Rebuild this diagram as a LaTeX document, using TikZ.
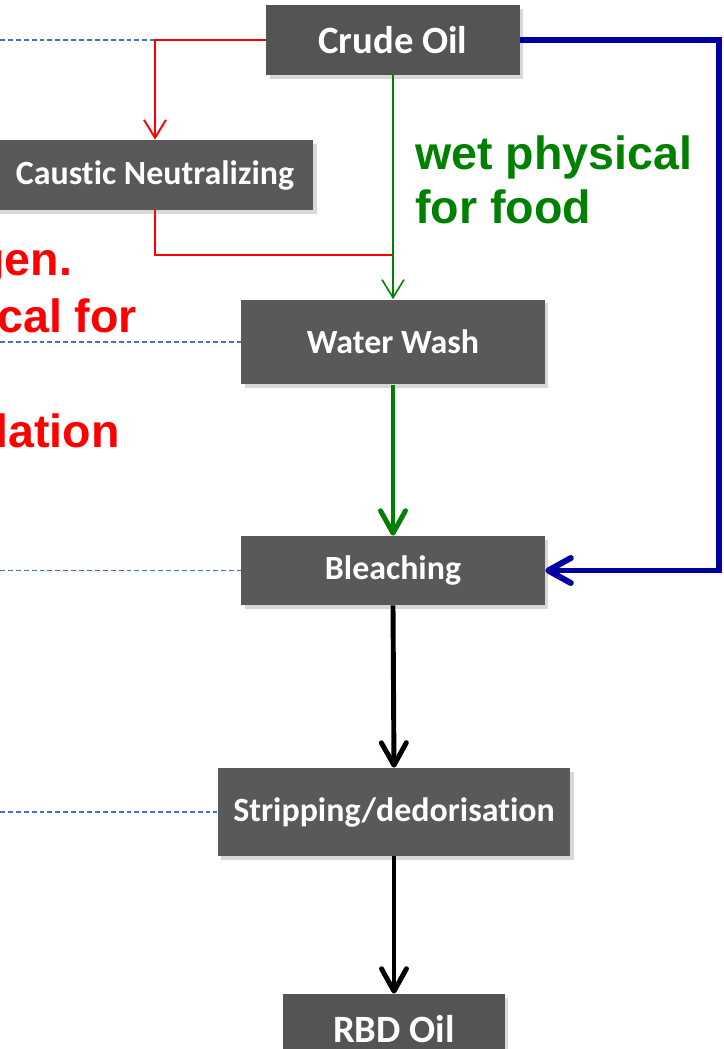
\documentclass[tikz,border=0pt]{standalone}
\usepackage{fontspec}
\usepackage{xcolor}
\usepackage{tikz}
\usetikzlibrary{arrows.meta,shadows}
\newfontfamily\boxfont{Carlito}[Ligatures=NoCommon]
\newfontfamily\notefont{Liberation Sans}
\definecolor{boxgray}{RGB}{89,89,89}
\definecolor{crudegray}{RGB}{84,84,84}
\definecolor{dashblue}{RGB}{68,114,196}
\definecolor{routeblue}{RGB}{0,0,160}
\definecolor{routegreen}{RGB}{0,128,0}
\definecolor{routered}{RGB}{255,0,0}
\tikzset{
  unit/.style={fill=boxgray, text=white, align=center, inner sep=2pt,
               font=\boxfont\bfseries\fontsize{19.3}{23}\selectfont,
               drop shadow={shadow xshift=2pt, shadow yshift=-2pt, opacity=0.3}},
  endunit/.style={unit, fill=crudegray,
                  font=\boxfont\bfseries\fontsize{22}{26}\selectfont},
  feed/.style={draw=dashblue, line width=0.6pt, dash pattern=on 2.8pt off 1.7pt},
  thinarrow/.style={line width=1.1pt, -{Straight Barb[length=3.6mm, width=4.4mm]}},
  bigarrow/.style={line width=2.8pt, -{Straight Barb[length=4.5mm, width=5mm, round]}},
  note/.style={font=\notefont\bfseries\fontsize{26.5}{31}\selectfont,
               inner sep=0pt, align=left}
}
\begin{document}
\begin{tikzpicture}[x=0.02cm, y=-0.02cm]
  \fill[white] (0,0) rectangle (724,1049);
  \useasboundingbox (0,0) rectangle (724,1049);
  \node[endunit, minimum width=5.08cm, minimum height=1.4cm] (crude) at (393,40) {Crude Oil};
  \node[unit, minimum width=6.34cm, minimum height=1.4cm] (caustic) at (155,175) {Caustic Neutralizing};
  \node[unit, minimum width=6.08cm, minimum height=1.7cm] (wash) at (393,342) {Water Wash};
  \node[unit, minimum width=6.08cm, minimum height=1.38cm] (bleach) at (393,570.5) {Bleaching};
  \node[unit, minimum width=7.06cm, minimum height=1.76cm] (strip) at (394,812) {Stripping/dedorisation};
  \node[endunit, minimum width=4.44cm, minimum height=1.4cm] (rbd) at (394,1029) {RBD Oil};
  \node[note, text=routered, anchor=base west] (chemA) at (-24,275) {gen.};
  \node[note, text=routered, anchor=base west] (chemB) at (-3,332) {cal for};
  \node[note, text=routered, anchor=base west] (chemC) at (-5,447) {lation};
  \node[note, text=routegreen, anchor=north west] (food) at (415,135) {wet physical\\for food};
  \coordinate (feedA) at (0,40);
  \coordinate (feedB) at (0,342);
  \coordinate (feedC) at (0,570.5);
  \coordinate (feedD) at (0,812);
  \coordinate (merge) at (393,255);
  \coordinate (bypass) at (719,40);
  \draw[feed] (feedA) -- (crude.west);
  \draw[feed] (feedB) -- (wash.west);
  \draw[feed] (feedC) -- (bleach.west);
  \draw[feed] (feedD) -- (strip.west);
  \draw[routered, thinarrow] (crude.west) -| (caustic.north);
  \draw[routered, line width=1.1pt] (caustic.south) |- (merge);
  \draw[routegreen, thinarrow, line width=0.9pt] (crude.south) -- (wash.north);
  \draw[routegreen, bigarrow] (wash.south) -- (bleach.north);
  \draw[routeblue, bigarrow, line width=3.4pt] (crude.east) -- (bypass) |- (bleach.east);
  \draw[bigarrow] (bleach.south) -- (strip.north);
  \draw[bigarrow] (strip.south) -- (rbd.north);
\end{tikzpicture}
\end{document}
